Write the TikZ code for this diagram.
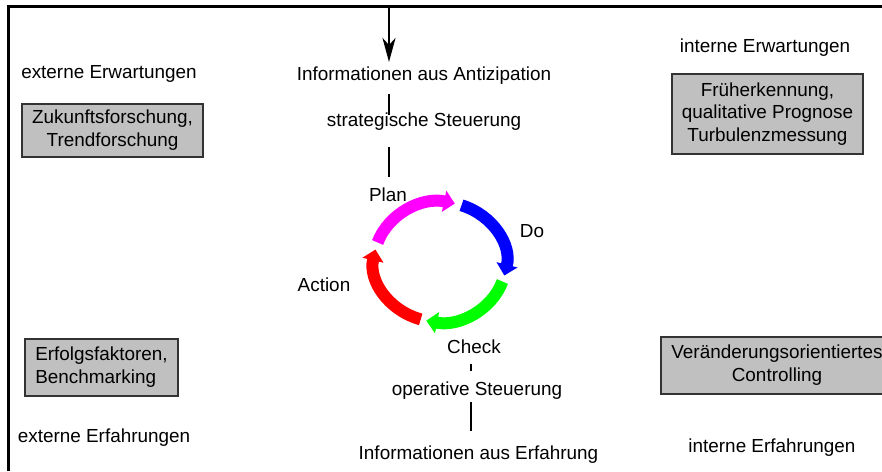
\documentclass[tikz,border=0pt]{standalone}
\usepackage{fontspec}
\setmainfont{Liberation Sans}
\usetikzlibrary{arrows.meta}
\definecolor{boxgray}{RGB}{192,192,192}
\definecolor{pmag}{RGB}{255,0,255}
\definecolor{pblue}{RGB}{0,0,255}
\definecolor{pgreen}{RGB}{0,255,0}
\definecolor{pred}{RGB}{255,0,0}
\begin{document}
\begin{tikzpicture}[x=1pt,y=-1pt,
  lbl/.style={inner sep=0pt,font=\fontsize{18.9}{22.8}\selectfont},
  graybox/.style={draw=black!80,line width=1.6pt,fill=boxgray,inner sep=0pt,
    font=\fontsize{18.9}{22.8}\selectfont},
  seg/.style={line width=2.6pt},
  cyc/.style={line width=12pt,-{Triangle[width=21pt,length=11pt]}}]
\useasboundingbox (0,0) rectangle (882,471);
% frame
\draw[line width=2.6pt] (8.5,471) -- (8.5,6.5) -- (882,6.5);
% side texts and boxes
\node[lbl] (eErw) at (109,74) {externe Erwartungen};
\node[graybox,minimum width=181pt,minimum height=53pt,align=center] (zuk) at (112.5,130.5) {Zukunftsforschung,\\Trendforschung};
\node[graybox,minimum width=153pt,minimum height=57pt,align=left] (erf) at (101.5,367.5) {Erfolgsfaktoren,\\Benchmarking};
\node[lbl] (eErf) at (104,438) {externe Erfahrungen};
\node[lbl] (iErw) at (765,48) {interne Erwartungen};
\node[graybox,minimum width=191pt,minimum height=80pt,align=center] (fru) at (767.5,114) {Früherkennung,\\qualitative Prognose\\Turbulenzmessung};
\node[graybox,minimum width=232pt,minimum height=57pt,align=center] (ver) at (777,365.5) {Veränderungsorientiertes\\Controlling};
\node[lbl] (iErf) at (772,448) {interne Erfahrungen};
% centre texts
\node[lbl] (infoA) at (424,76) {Informationen aus Antizipation};
\node[lbl] (strat) at (424,122) {strategische Steuerung};
\node[lbl] (plan) at (388,195) {Plan};
\node[lbl] (do) at (532,231) {Do};
\node[lbl] (action) at (324,285) {Action};
\node[lbl] (check) at (474,347) {Check};
\node[lbl] (oper) at (477,391) {operative Steuerung};
\node[lbl] (infoE) at (478.5,455) {Informationen aus Erfahrung};
% vertical connectors
\coordinate (topA) at (389,7.5);
\coordinate (tipA) at (389,62);
\draw[seg,-{Stealth[width=13pt,length=24pt,inset=7pt]}] (topA) -- (tipA);
\coordinate (s1a) at (389,94);  \coordinate (s1b) at (389,115);
\coordinate (s2a) at (389,147); \coordinate (s2b) at (389,177);
\coordinate (s3a) at (471,364); \coordinate (s3b) at (471,371);
\coordinate (s4a) at (471,402); \coordinate (s4b) at (471,431);
\draw[seg] (s1a) -- (s1b);
\draw[seg] (s2a) -- (s2b);
\draw[seg] (s3a) -- (s3b);
\draw[seg] (s4a) -- (s4b);
% PDCA cycle
\coordinate (c) at (440,262);
\draw[cyc,pmag] (c) ++(161:66pt and 60pt) arc[start angle=161,end angle=77,x radius=66pt,y radius=60pt];
\draw[cyc,pblue] (c) ++(71:66pt and 60pt) arc[start angle=71,end angle=-13,x radius=66pt,y radius=60pt];
\draw[cyc,pgreen] (c) ++(-19:66pt and 60pt) arc[start angle=-19,end angle=-102,x radius=66pt,y radius=60pt];
\draw[cyc,pred] (c) ++(-107:66pt and 60pt) arc[start angle=-107,end angle=-192,x radius=66pt,y radius=60pt];
\end{tikzpicture}
\end{document}
